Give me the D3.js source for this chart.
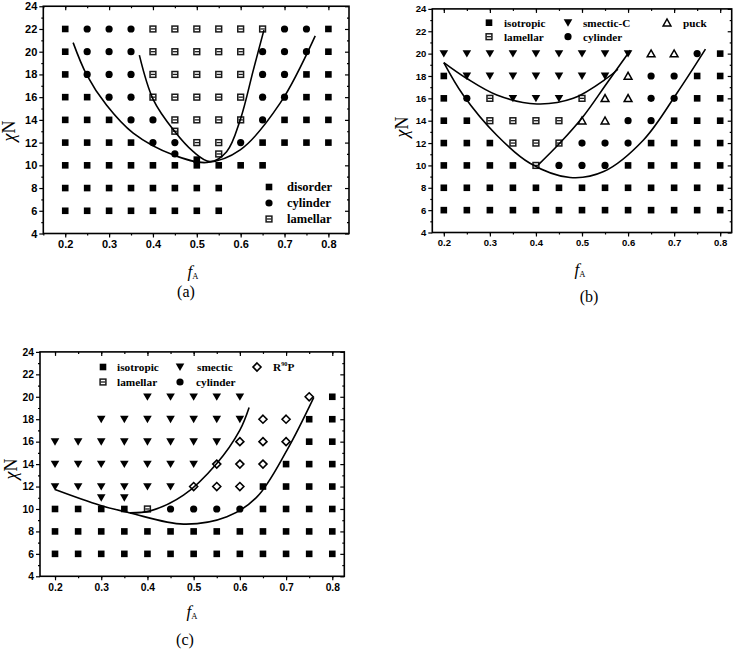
<!DOCTYPE html>
<html><head><meta charset="utf-8">
<script src="https://cdn.jsdelivr.net/npm/d3@7"></script>
<style>body{margin:0;background:#fff}svg{display:block}</style>
</head><body>
<svg id="chart" width="734" height="651"></svg>
<script>
// ---------- data ----------
const fValues = [0.2,0.25,0.3,0.35,0.4,0.45,0.5,0.55,0.6,0.65,0.7,0.75,0.8];
const xTicks = [0.2,0.3,0.4,0.5,0.6,0.7,0.8];
const yTicks = [4,6,8,10,12,14,16,18,20,22,24];

// Phase grid codes per chiN row (one char per fA value):
// D = disorder/isotropic, C = cylinder, L = lamellar, S = smectic, P = puck, R = R90P, . = none
const gridA = [
  [22,  "DCCCLLLLLLCCD"],
  [20,  "DCCCLLLLLCCCD"],
  [18,  "DCCCLLLLLCCDD"],
  [16,  "DDCCLLLLLCCDD"],
  [14,  "DDDCCLLLLCDDD"],
  [13,  ".....L......."],
  [12,  "DDDDCCLLCDDDD"],
  [11,  ".....C.L....."],
  [10.5,"......D......"],
  [10,  "DDDDDDDDDD..."],
  [8,   "DDDDDDDD....."],
  [6,   "DDDDDDDD....."]
];
const gridB = [
  [20, "SSSSSSSSSPPCD"],
  [18, "DSSSSSSSPCCDD"],
  [16, "DCLSSSLPPCCDD"],
  [14, "DDLLLLPPCCDDD"],
  [12, "DDDLLLCCCDDDD"],
  [10, "DDDDLCCCDDDDD"],
  [8,  "DDDDDDDDDDDDD"],
  [6,  "DDDDDDDDDDDDD"]
];
const gridC = [
  [20, "....SSSSS..RD"],
  [18, "..SSSSSSSRRDD"],
  [16, "SSSSSSSSRRRDD"],
  [14, "SSSSSSSRRRDDD"],
  [12, "SSSSSSRRRDDDD"],
  [11, "..SS........."],
  [10, "DDDDLCCCCDDDD"],
  [8,  "DDDDDDDDDDDDD"],
  [6,  "DDDDDDDDDDDDD"]
];

// phase boundary curves, [fA, chiN]
const curvesA = [
  [[0.218,20.8],[0.249,17.96],[0.294,15.3],[0.355,12.83],[0.447,10.9],[0.523,10.25],[0.599,11.36],[0.69,15.47],[0.77,21.4]],
  [[0.369,19.7],[0.401,15.76],[0.447,13.1],[0.492,11.2],[0.530,10.33],[0.568,11.2],[0.599,14.0],[0.629,18.4],[0.653,21.9]]
];
const curvesB = [
  [[0.2,19.2],[0.249,17.8],[0.315,16.3],[0.402,15.5],[0.481,16.0],[0.554,17.8],[0.578,18.6]],
  [[0.405,10.05],[0.452,12.0],[0.503,14.4],[0.554,17.35],[0.605,20.3]],
  [[0.2,19.2],[0.242,16.3],[0.315,12.7],[0.387,10.2],[0.474,8.92],[0.547,9.45],[0.634,12.3],[0.706,16.46],[0.768,20.4]]
];
const curvesC = [
  [[0.2,11.74],[0.297,10.34],[0.362,9.65],[0.478,8.65],[0.572,9.3],[0.637,11.08],[0.702,15.25],[0.76,19.95]],
  [[0.362,9.65],[0.406,9.83],[0.478,11.23],[0.55,14.06],[0.60,17.03],[0.62,19.05]]
];

const legendA = [["D","disorder"],["C","cylinder"],["L","lamellar"]];
const legendB = [["D","isotropic"],["S","smectic-C"],["P","puck"],["L","lamellar"],["C","cylinder"]];
const legendC = [["D","isotropic"],["S","smectic"],["R","R90P"],["L","lamellar"],["C","cylinder"]];

// ---------- drawing ----------
const svg = d3.select("#chart");
const SANS = "'Liberation Sans', Arial, sans-serif";
const SERIF = "'Liberation Serif', 'Times New Roman', serif";

function marker(g, type, cx, cy) {
  if (type === "D") {
    g.append("rect").attr("x", cx-3.3).attr("y", cy-3.3).attr("width", 6.6).attr("height", 6.6).attr("fill", "#000");
  } else if (type === "C") {
    g.append("circle").attr("cx", cx).attr("cy", cy).attr("r", 3.6).attr("fill", "#000");
  } else if (type === "L") {
    g.append("rect").attr("x", cx-2.9).attr("y", cy-2.9).attr("width", 5.8).attr("height", 5.8)
      .attr("fill", "#fff").attr("stroke", "#1a1a1a").attr("stroke-width", 1.5);
    g.append("line").attr("x1", cx-2.2).attr("x2", cx+2.2).attr("y1", cy).attr("y2", cy)
      .attr("stroke", "#1a1a1a").attr("stroke-width", 1.3);
  } else if (type === "S") {
    g.append("path").attr("d", `M${cx-4.3},${cy-3.4}L${cx+4.3},${cy-3.4}L${cx},${cy+4}Z`).attr("fill", "#000");
  } else if (type === "P") {
    g.append("path").attr("d", `M${cx-3.9},${cy+3.2}L${cx+3.9},${cy+3.2}L${cx},${cy-3.7}Z`)
      .attr("fill", "#fff").attr("stroke", "#000").attr("stroke-width", 1.5).attr("stroke-linejoin", "miter");
  } else if (type === "R") {
    g.append("path").attr("d", `M${cx},${cy-4}L${cx+4},${cy}L${cx},${cy+4}L${cx-4},${cy}Z`)
      .attr("fill", "#fff").attr("stroke", "#000").attr("stroke-width", 1.6);
  }
}

function panel(cfg) {
  const g = svg.append("g");
  const x = d3.scaleLinear().domain(cfg.xDomain).range([cfg.left, cfg.right]);
  const y = d3.scaleLinear().domain([4, 24]).range([cfg.bottom, cfg.top]);
  const W = cfg.right - cfg.left, H = cfg.bottom - cfg.top;
  const minorX = d3.range(0.15, 0.851, 0.05).map(v => +v.toFixed(2)).filter(v => v >= cfg.xDomain[0] && v <= cfg.xDomain[1]);
  const minorY = d3.range(5, 24, 2);

  // axes
  const bottom = g.append("g").attr("transform", `translate(0,${cfg.bottom})`)
    .call(d3.axisBottom(x).tickValues(xTicks).tickSize(4).tickPadding(3).tickFormat(d3.format(".1f")));
  const left = g.append("g").attr("transform", `translate(${cfg.left},0)`)
    .call(d3.axisLeft(y).tickValues(yTicks).tickSize(4).tickPadding(2).tickFormat(d3.format("d")));
  const top = g.append("g").attr("transform", `translate(0,${cfg.top})`)
    .call(d3.axisBottom(x).tickValues(xTicks).tickSize(4).tickFormat(""));
  const right = g.append("g").attr("transform", `translate(${cfg.right},0)`)
    .call(d3.axisLeft(y).tickValues(yTicks).tickSize(4).tickFormat(""));
  const bMin = g.append("g").attr("transform", `translate(0,${cfg.bottom})`)
    .call(d3.axisBottom(x).tickValues(minorX).tickSize(2).tickFormat(""));
  const lMin = g.append("g").attr("transform", `translate(${cfg.left},0)`)
    .call(d3.axisLeft(y).tickValues(minorY).tickSize(2).tickFormat(""));
  const tMin = g.append("g").attr("transform", `translate(0,${cfg.top})`)
    .call(d3.axisBottom(x).tickValues(minorX).tickSize(2).tickFormat(""));
  const rMin = g.append("g").attr("transform", `translate(${cfg.right},0)`)
    .call(d3.axisLeft(y).tickValues(minorY).tickSize(2).tickFormat(""));
  [bottom,left,top,right,bMin,lMin,tMin,rMin].forEach(a => {
    a.select(".domain").remove();
    a.selectAll("line").attr("stroke", "#000").attr("stroke-width", 1.2);
    a.selectAll("text").attr("font-family", SANS).attr("font-weight", "bold")
      .attr("font-size", cfg.tickFont).attr("fill", "#000");
  });
  g.append("rect").attr("x", cfg.left).attr("y", cfg.top).attr("width", W).attr("height", H)
    .attr("fill", "none").attr("stroke", "#000").attr("stroke-width", 1.6);

  // points
  const pts = g.append("g");
  cfg.grid.forEach(([chi, codes]) => {
    codes.split("").forEach((c, i) => {
      if (c !== ".") marker(pts, c, x(fValues[i]), y(chi));
    });
  });

  // curves
  const line = d3.line().x(d => x(d[0])).y(d => y(d[1])).curve(d3.curveCatmullRom.alpha(0.5));
  cfg.curves.forEach(c => {
    g.append("path").attr("d", line(c)).attr("fill", "none").attr("stroke", "#000").attr("stroke-width", 1.6);
  });

  // legend
  cfg.legend.forEach((item, i) => {
    const p = cfg.legendPos[i];
    marker(g, item[0], p[0], p[1]);
    const t = g.append("text").attr("x", p[2]).attr("y", p[1] + 4).attr("font-family", SERIF)
      .attr("font-weight", "bold").attr("font-size", cfg.legendFont).attr("fill", "#000");
    if (item[1] === "R90P") {
      t.append("tspan").text("R");
      t.append("tspan").attr("font-size", cfg.legendFont * 0.55).attr("dy", -5).text("90");
      t.append("tspan").attr("dy", 5).text("P");
    } else t.text(item[1]);
  });

  // axis titles
  const yl = g.append("text").attr("transform", `translate(${cfg.yLabel[0]},${cfg.yLabel[1]}) rotate(-90)`)
    .attr("text-anchor", "middle").attr("font-family", SERIF).attr("font-size", 18).attr("fill", "#000");
  yl.append("tspan").attr("font-style", "italic").text("χ");
  yl.append("tspan").text("N");
  const xl = g.append("text").attr("x", cfg.xLabel[0]).attr("y", cfg.xLabel[1])
    .attr("text-anchor", "middle").attr("font-family", SERIF).attr("fill", "#000");
  xl.append("tspan").attr("font-style", "italic").attr("font-size", 17).text("f");
  xl.append("tspan").attr("font-size", 8.5).attr("dy", 1.5).text("A");
  g.append("text").attr("x", cfg.tag[0]).attr("y", cfg.tag[1]).attr("text-anchor", "middle")
    .attr("font-family", SERIF).attr("font-size", 16).attr("fill", "#000").text(cfg.tag[2]);
}

panel({
  left: 43.3, right: 349, top: 6.25, bottom: 233.5, xDomain: [0.15, 0.847],
  grid: gridA, curves: curvesA, legend: legendA, tickFont: 11, legendFont: 12.5,
  legendPos: [[269,187,287],[269,203,287],[269,219,287]],
  yLabel: [15, 131], xLabel: [193, 277], tag: [186, 297, "(a)"]
});
panel({
  left: 432.3, right: 731.7, top: 8.9, bottom: 232.5, xDomain: [0.175, 0.825],
  grid: gridB, curves: curvesB, legend: legendB, tickFont: 9.5, legendFont: 11.2,
  legendPos: [[489,22.7,504],[568,22.7,583],[667,22.7,683],[489,36.7,504],[568,36.7,583]],
  yLabel: [408, 127], xLabel: [580, 275], tag: [589, 302, "(b)"]
});
panel({
  left: 40, right: 344.3, top: 351.9, bottom: 576.3, xDomain: [0.1675, 0.826],
  grid: gridC, curves: curvesC, legend: legendC, tickFont: 10.3, legendFont: 11.3,
  legendPos: [[103,367,117],[180,367,197],[257,367,273],[103,382,117],[180,382,196]],
  yLabel: [17, 469], xLabel: [192, 617], tag: [185, 645, "(c)"]
});
</script>
</body></html>
